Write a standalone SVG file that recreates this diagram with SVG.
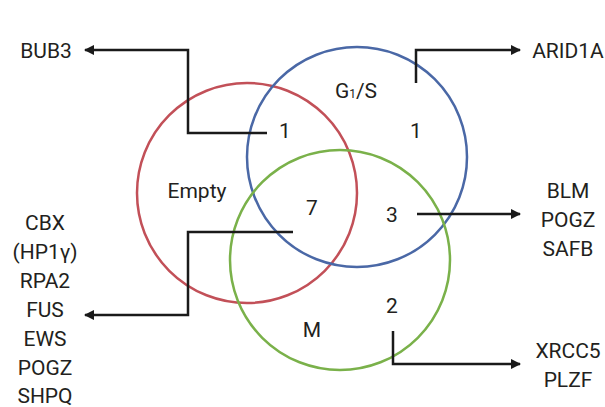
<svg xmlns="http://www.w3.org/2000/svg" width="605" height="407" viewBox="0 0 605 407">
<style>
text{font-family:"Roboto","Liberation Sans",sans-serif;font-size:21px;fill:#231f20;text-anchor:middle}
.c{fill:none;stroke-width:2.5}
.l{fill:none;stroke:#1a1a1a;stroke-width:2.5}
</style>
<defs>
<marker id="a" viewBox="0 0 10 10" refX="9" refY="5" markerWidth="4.2" markerHeight="4.2" orient="auto" markerUnits="strokeWidth">
<path d="M0,0 L10,5 L0,10 z" fill="#1a1a1a"/>
</marker>
</defs>
<rect width="605" height="407" fill="#fff"/>
<g id="empty-set"><circle class="c" cx="247" cy="193" r="110" stroke="#c25058"/><text x="197" y="198">Empty</text></g>
<g id="g1s-set"><circle class="c" cx="357" cy="157" r="110" stroke="#4a68a6"/><text x="356" y="98">G<tspan font-size="12">1</tspan>/S</text></g>
<g id="m-set"><circle class="c" cx="340" cy="260" r="110" stroke="#7ab14a"/><text x="312" y="337">M</text></g>
<g id="counts">
<text x="285" y="138">1</text>
<text x="416" y="138">1</text>
<text x="312" y="215">7</text>
<text x="392" y="222">3</text>
<text x="392" y="313">2</text>
</g>
<g id="connectors">
<path class="l" d="M267,133 H188 V50 H85" marker-end="url(#a)"/>
<path class="l" d="M416,83 V50 H520" marker-end="url(#a)"/>
<path class="l" d="M417,214 H520" marker-end="url(#a)"/>
<path class="l" d="M293,232 H188 V315 H85" marker-end="url(#a)"/>
<path class="l" d="M393,331 V364 H520" marker-end="url(#a)"/>
</g>
<g id="bub3"><text x="46" y="58">BUB3</text></g>
<g id="arid1a"><text x="568" y="58">ARID1A</text></g>
<g id="blm"><text x="568" y="198">BLM</text><text x="568" y="227">POGZ</text><text x="568" y="256">SAFB</text></g>
<g id="cbx"><text x="45" y="230">CBX</text><text x="45" y="259">(HP1γ)</text><text x="45" y="288">RPA2</text><text x="45" y="317">FUS</text><text x="45" y="346">EWS</text><text x="45" y="375">POGZ</text><text x="45" y="403">SHPQ</text></g>
<g id="xrcc5"><text x="568" y="358">XRCC5</text><text x="568" y="387">PLZF</text></g>
</svg>
